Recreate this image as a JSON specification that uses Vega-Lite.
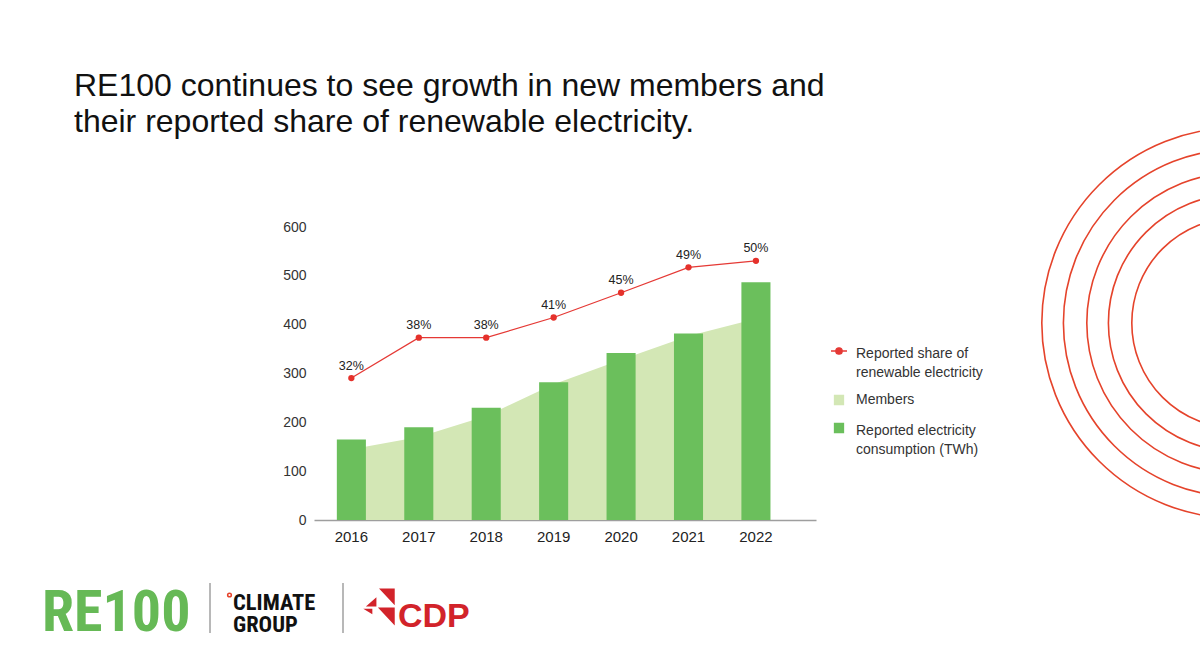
{
  "$schema": "https://vega.github.io/schema/vega-lite/v6.json",
  "width": 1200,
  "height": 670,
  "autosize": {"type": "none"},
  "padding": 0,
  "background": "white",
  "config": {"view": {"stroke": null}},
  "layer": [
    {
      "layer": [
        {
          "data": {"values": [{"ring": 1}, {"ring": 2}, {"ring": 3}, {"ring": 4}, {"ring": 5}]},
          "mark": {"type": "point", "shape": "circle", "filled": false, "stroke": "#e5432b", "strokeWidth": 1.6, "opacity": 1},
          "encoding": {
            "x": {"datum": 1237, "type": "quantitative", "scale": {"domain": [0, 1200], "range": [0, 1200], "zero": false, "nice": false}, "axis": null},
            "y": {"datum": 323, "type": "quantitative", "scale": {"domain": [0, 670], "range": [0, 670], "zero": false, "nice": false}, "axis": null},
            "size": {"field": "ring", "type": "quantitative", "scale": {"type": "threshold", "domain": [1.5, 2.5, 3.5, 4.5], "range": [44268, 66153, 90240, 120548, 152412]}, "legend": null}
          }
        },
        {
          "data": {"values": [{"t": "RE100 continues to see growth in new members and\ntheir reported share of renewable electricity."}]},
          "mark": {"type": "text", "align": "left", "baseline": "alphabetic", "font": "Liberation Sans", "fontSize": 32, "lineHeight": 36, "lineBreak": "\n", "color": "#111111"},
          "encoding": {
            "x": {"datum": 74, "type": "quantitative"},
            "y": {"datum": 96, "type": "quantitative"},
            "text": {"field": "t", "type": "nominal"}
          }
        },
        {
          "data": {"values": [{"t": "RE100"}]},
          "mark": {"type": "text", "align": "left", "baseline": "alphabetic", "font": "Roboto Condensed, Liberation Sans Narrow, DejaVu Sans Condensed, sans-serif", "fontWeight": "bold", "fontSize": 58, "color": "#66b956"},
          "encoding": {
            "x": {"datum": 42, "type": "quantitative"},
            "y": {"datum": 631, "type": "quantitative"},
            "text": {"field": "t", "type": "nominal"}
          }
        },
        {
          "data": {"values": [{"d": 210}, {"d": 343}]},
          "mark": {"type": "rule", "color": "#a0a0a0", "strokeWidth": 1.5},
          "encoding": {
            "x": {"field": "d", "type": "quantitative"},
            "y": {"datum": 583, "type": "quantitative"},
            "y2": {"datum": 633}
          }
        },
        {
          "data": {"values": [{"t": "CLIMATE"}]},
          "mark": {"type": "text", "align": "left", "baseline": "alphabetic", "font": "Roboto Condensed, Liberation Sans Narrow, DejaVu Sans Condensed, sans-serif", "fontWeight": "bold", "fontSize": 22.5, "color": "#111111"},
          "encoding": {
            "x": {"datum": 233, "type": "quantitative"},
            "y": {"datum": 609.5, "type": "quantitative"},
            "text": {"field": "t", "type": "nominal"}
          }
        },
        {
          "data": {"values": [{"t": "GROUP"}]},
          "mark": {"type": "text", "align": "left", "baseline": "alphabetic", "font": "Roboto Condensed, Liberation Sans Narrow, DejaVu Sans Condensed, sans-serif", "fontWeight": "bold", "fontSize": 22.5, "color": "#111111"},
          "encoding": {
            "x": {"datum": 233, "type": "quantitative"},
            "y": {"datum": 631.5, "type": "quantitative"},
            "text": {"field": "t", "type": "nominal"}
          }
        },
        {
          "data": {"values": [{"t": "degree"}]},
          "mark": {"type": "point", "shape": "circle", "filled": false, "stroke": "#e5432b", "strokeWidth": 1.5, "size": 14, "opacity": 1},
          "encoding": {
            "x": {"datum": 229.5, "type": "quantitative"},
            "y": {"datum": 595, "type": "quantitative"}
          }
        },
        {
          "data": {"values": [{"t": "CDP mark"}]},
          "mark": {"type": "point", "filled": true, "fill": "#d2232a", "opacity": 1, "size": 1369, "strokeWidth": 0,
            "shape": "M0,-1L0.85,-1L0.85,-0.09ZM-0.06,0.03L0.85,0.03L0.85,1ZM-0.71,-0.03L-0.14,-0.53L-0.14,-0.03ZM-0.85,0.09L-0.36,0.09L-0.36,0.39Z"},
          "encoding": {
            "x": {"datum": 379, "type": "quantitative"},
            "y": {"datum": 607, "type": "quantitative"}
          }
        },
        {
          "data": {"values": [{"t": "CDP"}]},
          "mark": {"type": "text", "align": "left", "baseline": "alphabetic", "font": "Liberation Sans", "fontWeight": "bold", "fontSize": 34, "color": "#d2232a"},
          "encoding": {
            "x": {"datum": 398, "type": "quantitative"},
            "y": {"datum": 627, "type": "quantitative"},
            "text": {"field": "t", "type": "nominal"}
          }
        }
      ]
    },
    {
      "data": {"values": [
        {"year": "2016", "twh": 165, "members": 145, "share": 0.320},
        {"year": "2017", "twh": 190, "members": 170, "share": 0.382},
        {"year": "2018", "twh": 230, "members": 213, "share": 0.382},
        {"year": "2019", "twh": 282, "members": 278, "share": 0.413},
        {"year": "2020", "twh": 342, "members": 328, "share": 0.451},
        {"year": "2021", "twh": 382, "members": 377, "share": 0.490},
        {"year": "2022", "twh": 487, "members": 412, "share": 0.500}
      ]},
      "encoding": {
        "x": {
          "field": "year", "type": "ordinal",
          "scale": {"type": "band", "range": [314, 816], "paddingInner": 0.569, "paddingOuter": 0.507, "align": 0.334},
          "axis": {"orient": "bottom", "title": null, "offset": -150, "domainColor": "#9e9e9e", "domainWidth": 1.5, "ticks": false, "tickSize": 0, "labelPadding": 9, "labelFont": "Liberation Sans", "labelFontSize": 15, "labelColor": "#222222", "labelAngle": 0, "grid": false}
        }
      },
      "layer": [
        {
          "encoding": {
            "color": {
              "datum": "Members",
              "scale": {"domain": ["Reported share of renewable electricity", "Members", "Reported electricity consumption (TWh)"], "range": ["#e53935", "#d3e7b5", "#6bbf5c"]},
              "legend": {
                "orient": "none", "legendX": 832, "legendY": 344, "title": null, "padding": 0,
                "symbolSize": 256, "symbolType": "square", "labelOffset": 10, "rowPadding": 12,
                "labelFont": "Liberation Sans", "labelFontSize": 14, "labelColor": "#333333", "labelLimit": 200,
                "labelExpr": "datum.label === 'Reported share of renewable electricity' ? ['Reported share of', 'renewable electricity'] : datum.label === 'Reported electricity consumption (TWh)' ? ['Reported electricity', 'consumption (TWh)'] : datum.label",
                "encode": {
                  "symbols": {"update": {
                    "shape": {"signal": "datum.value === 'Reported share of renewable electricity' ? 'M-1,0H1M0.4,0A0.4,0.4,0,1,1,-0.4,0A0.4,0.4,0,1,1,0.4,0Z' : 'square'"},
                    "size": {"signal": "datum.value === 'Reported share of renewable electricity' ? 256 : 81"},
                    "fill": {"signal": "datum.value === 'Reported share of renewable electricity' ? '#e53935' : datum.value === 'Members' ? '#d0e7b0' : '#5f9d5f'"},
                    "stroke": {"signal": "datum.value === 'Reported share of renewable electricity' ? '#e53935' : 'transparent'"},
                    "strokeWidth": {"value": 1.3},
                    "opacity": {"value": 1}
                  }},
                  "labels": {"update": {
                    "dy": {"signal": "datum.value === 'Members' ? 0 : 2.5"},
                    "lineHeight": {"value": 19}
                  }}
                }
              }
            },
            "y": {
              "field": "twh", "type": "quantitative",
              "scale": {"domain": [0, 600], "range": [520, 227], "nice": false},
              "axis": {"orient": "left", "title": null, "offset": -314, "values": [0, 100, 200, 300, 400, 500, 600], "domain": false, "ticks": false, "tickSize": 0, "labelPadding": 8, "labelFont": "Liberation Sans", "labelFontSize": 14, "labelColor": "#333333", "gridColor": "#e2e2e2", "gridWidth": 1}
            }
          },
          "layer": [
            {
              "mark": {"type": "area", "opacity": 1, "line": false},
              "encoding": {"y": {"field": "members", "type": "quantitative"}}
            },
            {
              "mark": {"type": "bar"},
              "encoding": {"color": {"datum": "Reported electricity consumption (TWh)"}}
            }
          ]
        },
        {
          "encoding": {
            "y": {"field": "share", "type": "quantitative", "scale": {"domain": [0.102, 0.552], "range": [520, 227], "nice": false, "zero": false}, "axis": null}
          },
          "layer": [
            {
              "mark": {"type": "line", "strokeWidth": 1.3},
              "encoding": {"color": {"datum": "Reported share of renewable electricity"}}
            },
            {
              "mark": {"type": "point", "filled": true, "color": "#e5312b", "size": 40, "opacity": 1}
            },
            {
              "mark": {"type": "text", "dy": -8.5, "baseline": "alphabetic", "font": "Liberation Sans", "fontSize": 12.5, "color": "#222222"},
              "encoding": {"text": {"field": "share", "type": "quantitative", "format": ".0%"}}
            }
          ]
        }
      ],
      "resolve": {"scale": {"y": "independent"}}
    }
  ],
  "resolve": {"scale": {"x": "independent", "y": "independent"}}
}
